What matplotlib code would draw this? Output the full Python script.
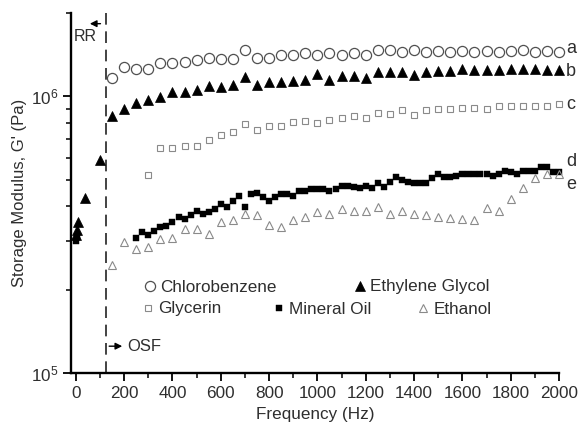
import matplotlib
matplotlib.use("Agg")
import matplotlib.pyplot as plt
from matplotlib.lines import Line2D
from matplotlib.ticker import LogLocator, MultipleLocator, NullFormatter

plt.rcParams['font.family'] = ['Liberation Sans', 'DejaVu Sans']

# ---------------- data ----------------
chloro_f = [150, 200, 250, 300, 350, 400, 450, 500, 550, 600, 650, 700, 750, 800,
            850, 900, 950, 1000, 1050, 1100, 1150, 1200, 1250, 1300, 1350, 1400,
            1450, 1500, 1550, 1600, 1650, 1700, 1750, 1800, 1850, 1900, 1950, 2000]
chloro_g = [1.16e6, 1.28e6, 1.26e6, 1.26e6, 1.32e6, 1.32e6, 1.33e6, 1.35e6, 1.37e6,
            1.36e6, 1.36e6, 1.47e6, 1.37e6, 1.37e6, 1.41e6, 1.41e6, 1.43e6, 1.41e6,
            1.43e6, 1.41e6, 1.43e6, 1.41e6, 1.47e6, 1.47e6, 1.45e6, 1.47e6, 1.44e6,
            1.46e6, 1.45e6, 1.46e6, 1.45e6, 1.46e6, 1.45e6, 1.46e6, 1.47e6, 1.45e6,
            1.46e6, 1.45e6]

eg_f = [0, 5, 10, 40, 100, 150, 200, 250, 300, 350, 400, 450, 500, 550, 600, 650,
        700, 750, 800, 850, 900, 950, 1000, 1050, 1100, 1150, 1200, 1250, 1300,
        1350, 1400, 1450, 1500, 1550, 1600, 1650, 1700, 1750, 1800, 1850, 1900,
        1950, 2000]
eg_g = [3.15e5, 3.3e5, 3.5e5, 4.3e5, 5.9e5, 8.47e5, 8.97e5, 9.44e5, 9.67e5, 9.94e5,
        1.04e6, 1.04e6, 1.05e6, 1.09e6, 1.08e6, 1.10e6, 1.17e6, 1.10e6, 1.13e6,
        1.13e6, 1.14e6, 1.15e6, 1.20e6, 1.15e6, 1.18e6, 1.18e6, 1.16e6, 1.22e6,
        1.22e6, 1.22e6, 1.19e6, 1.22e6, 1.23e6, 1.23e6, 1.25e6, 1.24e6, 1.24e6,
        1.245e6, 1.25e6, 1.25e6, 1.25e6, 1.24e6, 1.24e6]

gly_f = [300, 350, 400, 450, 500, 550, 600, 650, 700, 750, 800, 850, 900, 950,
         1000, 1050, 1100, 1150, 1200, 1250, 1300, 1350, 1400, 1450, 1500, 1550,
         1600, 1650, 1700, 1750, 1800, 1850, 1900, 1950, 2000]
gly_g = [5.21e5, 6.48e5, 6.52e5, 6.64e5, 6.64e5, 6.93e5, 7.23e5, 7.46e5, 7.93e5,
         7.54e5, 7.79e5, 7.79e5, 8.05e5, 8.12e5, 7.98e5, 8.18e5, 8.32e5, 8.47e5,
         8.32e5, 8.68e5, 8.65e5, 8.95e5, 8.53e5, 8.93e5, 9.0e5, 9.0e5, 9.05e5,
         9.05e5, 9.0e5, 9.2e5, 9.25e5, 9.2e5, 9.25e5, 9.2e5, 9.36e5]

oil_f = [0, 5, 250, 275, 300, 325, 350, 375, 400, 425, 450, 475, 500, 525, 550, 575,
         600, 625, 650, 675, 700, 725, 750, 775, 800, 825, 850, 875, 900, 925,
         950, 975, 1000, 1025, 1050, 1075, 1100, 1125, 1150, 1175, 1200, 1225,
         1250, 1275, 1300, 1325, 1350, 1375, 1400, 1425, 1450, 1475, 1500, 1525,
         1550, 1575, 1600, 1625, 1650, 1675, 1700, 1725, 1750, 1775, 1800, 1825,
         1850, 1875, 1900, 1925, 1950, 1975, 2000]
oil_g = [3.0e5, 3.1e5, 3.08e5, 3.22e5, 3.16e5, 3.27e5, 3.38e5, 3.41e5, 3.50e5,
         3.67e5, 3.61e5, 3.71e5, 3.86e5, 3.77e5, 3.83e5, 3.93e5, 4.08e5, 3.98e5,
         4.17e5, 4.38e5, 3.99e5, 4.45e5, 4.49e5, 4.34e5, 4.17e5, 4.34e5, 4.45e5,
         4.45e5, 4.38e5, 4.53e5, 4.56e5, 4.64e5, 4.64e5, 4.64e5, 4.56e5, 4.64e5,
         4.76e5, 4.76e5, 4.72e5, 4.68e5, 4.76e5, 4.68e5, 4.88e5, 4.72e5, 4.90e5,
         5.13e5, 5.00e5, 4.92e5, 4.88e5, 4.88e5, 4.88e5, 5.05e5, 5.22e5, 5.13e5,
         5.13e5, 5.17e5, 5.26e5, 5.26e5, 5.26e5, 5.22e5, 5.26e5, 5.17e5, 5.22e5,
         5.35e5, 5.31e5, 5.26e5, 5.35e5, 5.35e5, 5.35e5, 5.53e5, 5.53e5, 5.31e5,
         5.31e5]

eth_f = [150, 200, 250, 300, 350, 400, 450, 500, 550, 600, 650, 700, 750, 800, 850,
         900, 950, 1000, 1050, 1100, 1150, 1200, 1250, 1300, 1350, 1400, 1450,
         1500, 1550, 1600, 1650, 1700, 1750, 1800, 1850, 1900, 1950, 2000]
eth_g = [2.46e5, 2.98e5, 2.81e5, 2.86e5, 3.06e5, 3.08e5, 3.32e5, 3.32e5, 3.19e5,
         3.52e5, 3.58e5, 3.74e5, 3.71e5, 3.44e5, 3.38e5, 3.58e5, 3.67e5, 3.83e5,
         3.74e5, 3.93e5, 3.86e5, 3.86e5, 3.98e5, 3.74e5, 3.86e5, 3.74e5, 3.71e5,
         3.67e5, 3.64e5, 3.61e5, 3.56e5, 3.96e5, 3.86e5, 4.27e5, 4.68e5, 5.05e5,
         5.26e5, 5.26e5]

series_names = ["Chlorobenzene", "Ethylene Glycol", "Glycerin", "Mineral Oil", "Ethanol"]
curve_letters = ["a", "b", "c", "d", "e"]
letter_y = [1.49e6, 1.23e6, 9.35e5, 5.82e5, 4.80e5]
xticks = [0, 200, 400, 600, 800, 1000, 1200, 1400, 1600, 1800, 2000]

# ---------------- figure ----------------
W, H = 582, 426
fig = plt.figure(figsize=(W / 100, H / 100), dpi=100)
ax = fig.add_axes([71 / W, 1 - 373 / H, (559 - 71) / W, (373 - 13) / H])

txt = '#2e2e2e'
styles = [
    dict(marker='o', ms=7.3, mfc='none', mec='#505050', mew=0.9),
    dict(marker='^', ms=7, mfc='black', mec='black', mew=0.5),
    dict(marker='s', ms=4.8, mfc='none', mec='#8a8a8a', mew=0.8),
    dict(marker='s', ms=4.8, mfc='black', mec='black', mew=0.3),
    dict(marker='^', ms=6.3, mfc='none', mec='#8a8a8a', mew=0.8),
]
data = [(chloro_f, chloro_g), (eg_f, eg_g), (gly_f, gly_g), (oil_f, oil_g), (eth_f, eth_g)]
for (f, g), st in zip(data, styles):
    ax.plot(f, g, ls='none', clip_on=False, zorder=3, **st)

ax.set_yscale('log')
ax.set_xlim(-20, 2000)
ax.set_ylim(1e5, 2e6)
ax.set_xticks(xticks)
ax.xaxis.set_minor_locator(MultipleLocator(100))
ax.yaxis.set_major_locator(LogLocator(base=10, numticks=10))
ax.yaxis.set_minor_locator(LogLocator(base=10, subs=range(2, 10), numticks=20))
ax.yaxis.set_minor_formatter(NullFormatter())

for s in ['top', 'right']:
    ax.spines[s].set_visible(False)
for s in ['left', 'bottom']:
    ax.spines[s].set_linewidth(1.7)
    ax.spines[s].set_color('black')

ax.tick_params(which='major', direction='out', length=6, width=1.3, labelsize=12.3,
               labelcolor=txt, pad=3)
ax.tick_params(which='minor', direction='out', length=3.5, width=1.1)

ax.set_xlabel('Frequency (Hz)', fontsize=12.3, color=txt, labelpad=5)
ax.set_ylabel("Storage Modulus, G' (Pa)", fontsize=12, color=txt, labelpad=3)

# vertical dashed boundary
ax.axvline(124, color='#222222', lw=1.2, ls=(0, (7, 4)), zorder=2)

# RR / OSF annotations
ax.annotate('', xy=(58, 1.83e6), xytext=(102, 1.83e6),
            arrowprops=dict(arrowstyle='-|>', color='black', lw=1.0,
                            mutation_scale=10, shrinkA=0, shrinkB=0))
ax.text(-7, 1.64e6, 'RR', fontsize=11.5, color=txt, ha='left', va='center')
ax.annotate('', xy=(192, 1.25e5), xytext=(138, 1.25e5),
            arrowprops=dict(arrowstyle='-|>', color='black', lw=1.0,
                            mutation_scale=10, shrinkA=0, shrinkB=0))
ax.text(213, 1.25e5, 'OSF', fontsize=12, color=txt, ha='left', va='center')

# curve letters
for lab, yv in zip(curve_letters, letter_y):
    ax.text(2030, yv, lab, fontsize=13, color=txt, ha='left', va='center',
            clip_on=False)

# legend entries placed individually
leg_pos = [(150, 287), (360, 287), (148, 309), (279, 309), (423, 309)]
fs = 12.3
for name, st, (mx, my) in zip(series_names, styles, leg_pos):
    h = Line2D([], [], ls='none', **st)
    hl = 0.8
    left_px = mx - hl * fs / 72 * 100 / 2
    fig.legend([h], [name], loc='center left',
               bbox_to_anchor=(left_px / W, 1 - my / H),
               bbox_transform=fig.transFigure, frameon=False, fontsize=fs,
               handlelength=hl, handletextpad=0.2, borderpad=0, borderaxespad=0,
               labelcolor=txt, numpoints=1)

fig.savefig('out.png', dpi=100)
